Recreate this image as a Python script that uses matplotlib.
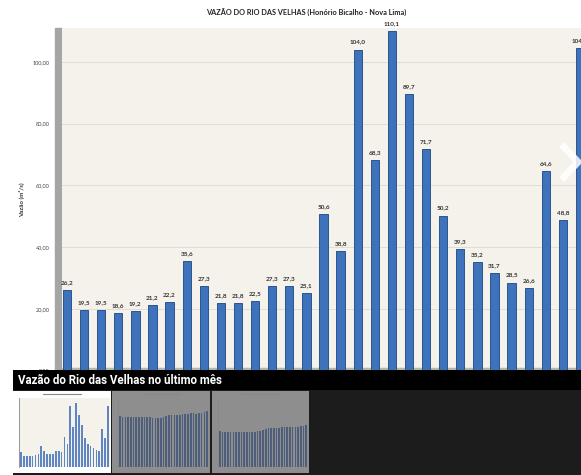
import matplotlib
matplotlib.use("Agg")
import matplotlib.pyplot as plt
from matplotlib.patches import Rectangle
from matplotlib.lines import Line2D

# ---- data ----
vazao = [26.2, 19.5, 19.5, 18.6, 19.2, 21.2, 22.2, 35.6, 27.3, 21.8, 21.8, 22.5,
         27.3, 27.3, 25.1, 50.6, 38.8, 104.0, 68.3, 110.1, 89.7, 71.7, 50.2, 39.3,
         35.2, 31.7, 28.5, 26.6, 64.6, 48.8, 104.6]
vazao_labels = ["26,2", "19,5", "19,5", "18,6", "19,2", "21,2", "22,2", "35,6", "27,3",
                "21,8", "21,8", "22,5", "27,3", "27,3", "25,1", "50,6", "38,8", "104,0",
                "68,3", "110,1", "89,7", "71,7", "50,2", "39,3", "35,2", "31,7", "28,5",
                "26,6", "64,6", "48,8", "104,6"]
yticks = [0, 20, 40, 60, 80, 100]
ytick_labels = ["0,00", "20,00", "40,00", "60,00", "80,00", "100,00"]
title = "VAZÃO DO RIO DAS VELHAS (Honório Bicalho - Nova Lima)"
ylabel = "Vazão (m³/s)"
caption = "Vazão do Rio das Velhas no último mês"
thumb2 = [74, 72, 72, 72, 72, 72, 72, 72, 72, 72, 72, 72, 71, 71, 71, 71, 72,
          74, 75, 75, 76, 76, 76, 77, 77, 77, 78, 78, 77, 78, 78, 79, 81]
thumb3 = [52, 51, 51, 51, 51, 51, 51, 51, 51, 51, 51, 51, 51, 51, 52, 52, 53,
          55, 56, 56, 57, 57, 57, 58, 58, 58, 58, 58, 58, 58, 59, 59, 61]

W, H = 581, 475
fig = plt.figure(figsize=(W / 100, H / 100), dpi=100)
fig.patch.set_facecolor("white")

def fx(px):
    return px / W

def fy(py):
    return 1 - py / H

# ---- main chart ----
left_px, top_px, zero_px = 62, 28, 370.5
step_px = 17.1
x0 = -(67 - left_px) / step_px
xr = x0 + (600 - left_px) / step_px

# left 3D wall (drawn below the axes so the first label stays visible)
fig.patches.append(Rectangle((fx(55), fy(370)), fx(7), (370 - 28) / H,
                             transform=fig.transFigure, color="#A5A5A5", zorder=-1))

ax = fig.add_axes([fx(left_px), fy(zero_px), fx(600 - left_px), (zero_px - top_px) / H])
ax.set_facecolor("#F4F2EB")
xs = list(range(len(vazao)))
ax.bar(xs, vazao, width=0.48, color="#3E72BB", edgecolor="#2A558F", linewidth=0.7, zorder=3)
for x, v, lab in zip(xs, vazao, vazao_labels):
    ax.text(x, v + 1.6, lab, ha="center", va="bottom", fontsize=4.6,
            fontweight="bold", color="#333333", family="Lato", zorder=4)
ax.set_xlim(x0, xr)
ax.set_ylim(0, 111)
ax.set_yticks(yticks)
ax.set_yticklabels(ytick_labels, fontsize=4.0, color="#444444", family="Lato")
ax.tick_params(axis="y", length=0, pad=9)
ax.set_xticks([])
ax.grid(axis="y", color="#E0DDD2", linewidth=0.7, zorder=0)
for s in ax.spines.values():
    s.set_visible(False)
ax.set_ylabel(ylabel, fontsize=4.4, fontweight="bold", color="#333333", family="Lato",
              labelpad=6)
ax.axhline(0.4, color="#B8B5AD", linewidth=2.5, zorder=2)

fig.text(fx(306), fy(13), title, ha="center", va="center", fontsize=5.3,
         fontweight="bold", color="#222222", family="Lato")

# navigation chevron
fig.add_artist(Line2D([fx(564), fx(578), fx(564)], [fy(147), fy(162), fy(177)],
                      color="white", alpha=0.85, linewidth=5, transform=fig.transFigure,
                      solid_joinstyle="miter", zorder=10))

# ---- dark caption band ----
band = fig.add_axes([fx(13), fy(390), 1 - fx(13), 20 / H])
band.set_facecolor("black")
band.set_xticks([]); band.set_yticks([])
for s in band.spines.values():
    s.set_visible(False)
band.text(0.008, 0.5, caption, transform=band.transAxes, ha="left", va="center",
          color="white", fontsize=8.3, fontweight="bold",
          family=["Liberation Sans Narrow", "Roboto", "DejaVu Sans"])

# ---- thumbnail strip ----
strip = fig.add_axes([fx(13), 0, 1 - fx(13), fy(390)])
strip.set_facecolor("#1C1C1C")
strip.set_xticks([]); strip.set_yticks([])
for s in strip.spines.values():
    s.set_visible(False)

def thumbnail(x_left, x_right, bg, plotbg, barcolor, values, ymax):
    tb = fig.add_axes([fx(x_left), fy(473), fx(x_right - x_left), (473 - 391) / H])
    tb.set_facecolor(bg)
    tb.set_xticks([]); tb.set_yticks([])
    for s in tb.spines.values():
        s.set_visible(False)
    ta = fig.add_axes([fx(x_left + 6), fy(467), fx(x_right - x_left - 7), (467 - 398) / H])
    ta.set_facecolor(plotbg)
    ta.bar(range(len(values)), values, width=0.6, color=barcolor, linewidth=0)
    ta.set_xlim(-0.7, len(values) - 0.3)
    ta.set_ylim(0, ymax)
    ta.set_xticks([]); ta.set_yticks([])
    for s in ta.spines.values():
        s.set_visible(False)
    ta.spines["left"].set_visible(True)
    ta.spines["left"].set_color("#888888")
    ta.spines["left"].set_linewidth(0.6)
    fig.add_artist(Line2D([fx(x_left + 30), fx(x_right - 30)], [fy(394), fy(394)],
                          color="#888888", linewidth=0.8, transform=fig.transFigure))
    return ta

thumbnail(13, 111, "#FFFFFF", "#F4F2EB", "#5F86C2", vazao, 118)
thumbnail(112, 210, "#8E8E8E", "#8E8E8E", "#4D5E7C", thumb2, 100)
thumbnail(212, 309, "#8E8E8E", "#8E8E8E", "#4D5E7C", thumb3, 100)

fig.savefig("out.png", dpi=100, facecolor=fig.get_facecolor())
